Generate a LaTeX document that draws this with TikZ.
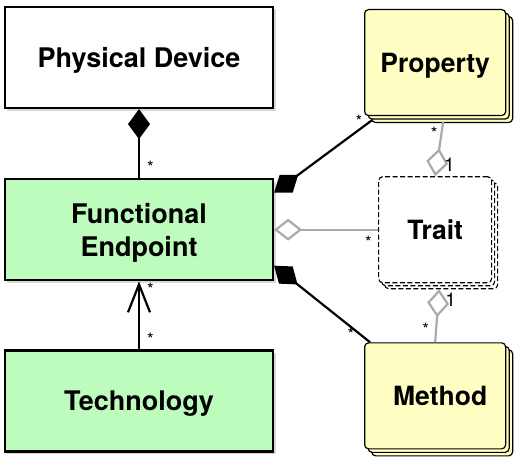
\documentclass[tikz,border=0pt]{standalone}
\usepackage{fontspec}
\setmainfont{TeX Gyre Heros}
\usetikzlibrary{positioning}
\usetikzlibrary{arrows.meta}
\usetikzlibrary{shadows}
\definecolor{classgreen}{RGB}{190,252,190}
\definecolor{classyellow}{RGB}{255,255,196}
\definecolor{linkgray}{RGB}{170,170,170}
\tikzset{	node distance=68pt,
	class/.style={
		draw, line width=2.2pt,
		minimum width=268pt, minimum height=101pt,
		inner sep=0pt, align=center, text depth=0pt,
		font=\fontsize{27}{33}\selectfont\bfseries,
		drop shadow={shadow xshift=2.5pt, shadow yshift=-2.5pt, opacity=0.3}},
	stacked/.style={
		draw, line width=1.2pt, rounded corners=4pt, fill=classyellow,
		minimum width=141pt, minimum height=106pt, inner sep=0pt, text depth=0pt,
		font=\fontsize{26.5}{32}\selectfont\bfseries,
		copy shadow={shadow xshift=7pt, shadow yshift=-7pt, fill=classyellow, draw, line width=1.2pt},
		copy shadow={shadow xshift=3.5pt, shadow yshift=-3.5pt, fill=classyellow, draw, line width=1.2pt}},
	dashbox/.style={
		draw, line width=1.1pt, rounded corners=4pt, fill=white,
		dash pattern=on 5pt off 2.5pt,
		minimum width=113pt, minimum height=106pt, inner sep=0pt, text depth=0pt,
		font=\fontsize{26.5}{32}\selectfont\bfseries,
		copy shadow={shadow xshift=6pt, shadow yshift=-6pt, fill=white, draw, line width=1.1pt, dash pattern=on 5pt off 2.5pt},
		copy shadow={shadow xshift=3pt, shadow yshift=-3pt, fill=white, draw, line width=1.1pt, dash pattern=on 5pt off 2.5pt}},
	comp/.style={line width=2.2pt, -{Diamond[length=30pt, width=22pt, fill=black]}},
	aggr/.style={linkgray, line width=2.2pt, -{Diamond[open, length=28pt, width=22pt]}},
	nav/.style={line width=2.2pt, -{Straight Barb[length=28pt, width=22pt]}},
	lbl/.style={font=\fontsize{17}{17}\selectfont, inner sep=1pt, text=black},
	one/.style={font=\fontsize{19}{19}\selectfont, inner sep=1pt, text=black}
}
\begin{document}
\begin{tikzpicture}
	\useasboundingbox (-139pt,57.5pt) rectangle (383pt,-405.5pt);
	\node[class, fill=white] (pd) {Physical Device};
	\node[class, fill=classgreen, below=69pt of pd] (fe) {Functional\\Endpoint};
	\node[class, fill=classgreen, below=68pt of fe] (tech) {Technology};
	\node[dashbox, right=104pt of fe] (trait) {Trait};
	\node[stacked, above=60pt of trait] (prop) {Property};
	\node[stacked, below=59pt of trait] (meth) {\hspace{10pt}Method};
	\draw[comp] (fe.north) -- node[lbl, pos=0.16, right=6pt] {*} (pd.south);
	\draw[nav] (tech.north) -- node[lbl, pos=0.14, right=6pt] {*} node[lbl, pos=0.88, right=6pt] {*} (fe.south);
	\draw[comp] ([shift={(8pt,-4pt)}]prop.south west) -- node[lbl, pos=0.08, above left, yshift=-4pt] {*} ([yshift=37pt]fe.east);
	\draw[comp] ([xshift=6pt]meth.north west) -- node[lbl, pos=0.1, left=4pt] {*} ([yshift=-36pt]fe.east);
	\draw[aggr] (trait.west) -- node[lbl, pos=0.04, below left, yshift=-4pt] {*} (fe.east);
	\draw[aggr] ([shift={(8pt,-6pt)}]prop.south) -- node[lbl, pos=0.2, left=2pt] {*} node[one, pos=0.78, right=5pt] {1} (trait.north);
	\draw[aggr] (meth.north) -- node[lbl, pos=0.24, left=5pt] {*} node[one, pos=0.8, right=5pt] {1} ([shift={(4pt,-6pt)}]trait.south);
\end{tikzpicture}
\end{document}
